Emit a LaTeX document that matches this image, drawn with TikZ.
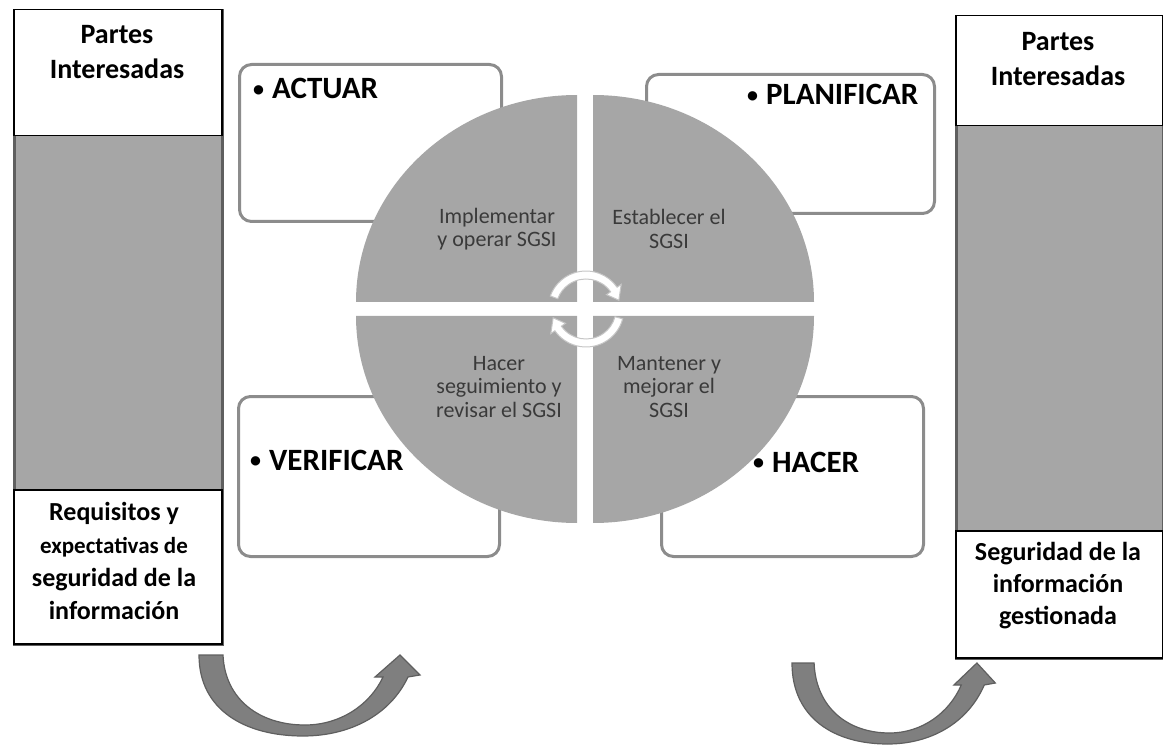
\documentclass[tikz,border=0pt]{standalone}
\usepackage{fontspec}
\setmainfont{Carlito}
\usetikzlibrary{positioning}

\definecolor{panelgray}{HTML}{A6A6A6}
\definecolor{edgegray}{HTML}{5F5F5F}
\definecolor{framegray}{HTML}{8C8C8C}
\definecolor{arrowgray}{HTML}{7F7F7F}
\definecolor{textgray}{HTML}{3A3A3A}

\newcommand{\stagedot}{{\fontsize{22}{22}\selectfont\raisebox{2.7pt}{•}}\hspace{8pt}}

\tikzset{upturn/.pic={
  \filldraw[bigarrow] (0,0) -- (24,0) .. controls (26,45) and (61,70) .. (106,70)
    .. controls (141,70) and (171,50) .. (184,22) -- (176,22) -- (201,0) -- (221,20)
    -- (209,22) .. controls (191,60) and (151,81) .. (104,81)
    .. controls (46,81) and (0,55) .. (0,0) -- cycle;
}}

\begin{document}
\begin{tikzpicture}[x=1pt, y=-1pt,
  column/.style = {draw=edgegray, line width=3pt, fill=panelgray, anchor=north west},
  header/.style = {draw=black, line width=1.5pt, fill=white, anchor=north west},
  stage/.style = {draw=framegray, line width=3pt, rounded corners=12pt,
    fill=white, anchor=north west},
  sidetext/.style = {align=center, inner sep=0pt, anchor=north,
    font=\bfseries\fontsize{28}{35}\selectfont},
  stagetext/.style = {inner sep=0pt, anchor=base west,
    font=\bfseries\fontsize{31}{36}\selectfont},
  quadtext/.style = {align=center, inner sep=0pt, text=textgray,
    font=\fontsize{22}{23.5}\selectfont},
  quadrant/.style = {fill=panelgray},
  cyclearrow/.style = {fill=white, draw=gray!45, line width=1pt},
  bigarrow/.style = {fill=arrowgray, draw=edgegray, line width=1.2pt}]

  \useasboundingbox (0,0) rectangle (1163,746);

  % columns of the interested parties
  \node[column, minimum width=208pt, minimum height=634pt] (leftcol) at (13,9) {};
  \node[header, minimum width=208pt, minimum height=126pt] (lefthead) at (13,9) {};
  \node[header, minimum width=208pt, minimum height=154pt] (leftfoot) at (13,489) {};
  \node[column, minimum width=207pt, minimum height=642pt] (rightcol) at (955,15) {};
  \node[header, minimum width=207pt, minimum height=110pt] (righthead) at (955,15) {};
  \node[header, minimum width=207pt, minimum height=127pt] (rightfoot) at (955,530) {};

  \node[sidetext] (leftheadtext) at (117,25) {Partes\\Interesadas};
  \node[sidetext] (rightheadtext) at (1058,32) {Partes\\Interesadas};
  \node[sidetext, font=\bfseries\fontsize{26}{33}\selectfont] (leftfoottext) at (114,502)
    {Requisitos y\\{\fontsize{23}{33}\selectfont expectativas de}\\seguridad de la\\información};
  \node[sidetext, font=\bfseries\fontsize{26}{32}\selectfont] (rightfoottext) at (1058,542)
    {Seguridad de la\\información\\gestionada};

  % the four stages
  \node[stage, minimum width=262pt, minimum height=157pt] (actuar) at (238,63) {};
  \node[stage, minimum width=288pt, minimum height=139pt] (planificar) at (645,73) {};
  \node[stage, minimum width=261pt, minimum height=160pt] (verificar) at (237,395) {};
  \node[stage, minimum width=262pt, minimum height=160pt] (hacer) at (660,395) {};

  % circle in four quadrants
  \fill[quadrant] (577,302) -- ++(-221,0)
    arc[start angle=180, end angle=270, x radius=221, y radius=207] -- cycle;
  \fill[quadrant] (593,302) -- ++(0,-207)
    arc[start angle=270, end angle=360, x radius=221, y radius=207] -- cycle;
  \fill[quadrant] (593,316) -- ++(221,0)
    arc[start angle=0, end angle=90, x radius=221, y radius=207] -- cycle;
  \fill[quadrant] (577,316) -- ++(0,207)
    arc[start angle=90, end angle=180, x radius=221, y radius=207] -- cycle;

  \node[quadtext] (implementar) at (497,229) {Implementar\\y operar SGSI};
  \node[quadtext] (establecer) at (669,229) {Establecer el\\SGSI};
  \node[quadtext] (seguimiento) at (499,387) {Hacer\\seguimiento y\\revisar el SGSI};
  \node[quadtext] (mantener) at (669,387) {Mantener y\\mejorar el\\SGSI};

  % cycle arrows in the middle
  \begin{scope}[shift={(586,309)}]
    \filldraw[cyclearrow] (200:38) arc[start angle=200, end angle=325, radius=38]
      -- (325:43) -- (345:34) -- (325:25) -- (325:30)
      arc[start angle=325, end angle=200, radius=30] -- cycle;
    \filldraw[cyclearrow] (15:38) arc[start angle=15, end angle=145, radius=38]
      -- (145:43) -- (165:34) -- (145:25) -- (145:30)
      arc[start angle=145, end angle=15, radius=30] -- cycle;
  \end{scope}

  \node[stagetext] (actuartext) at (253,99) {\stagedot ACTUAR};
  \node[stagetext] (planificartext) at (747,105) {\stagedot PLANIFICAR};
  \node[stagetext] (verificartext) at (250,470) {\stagedot VERIFICAR};
  \node[stagetext] (hacertext) at (753,472) {\stagedot HACER};

  % turning arrows below
  \pic at (199,655) {upturn};
  \pic[xscale=0.92] at (792,663) {upturn};
\end{tikzpicture}
\end{document}
